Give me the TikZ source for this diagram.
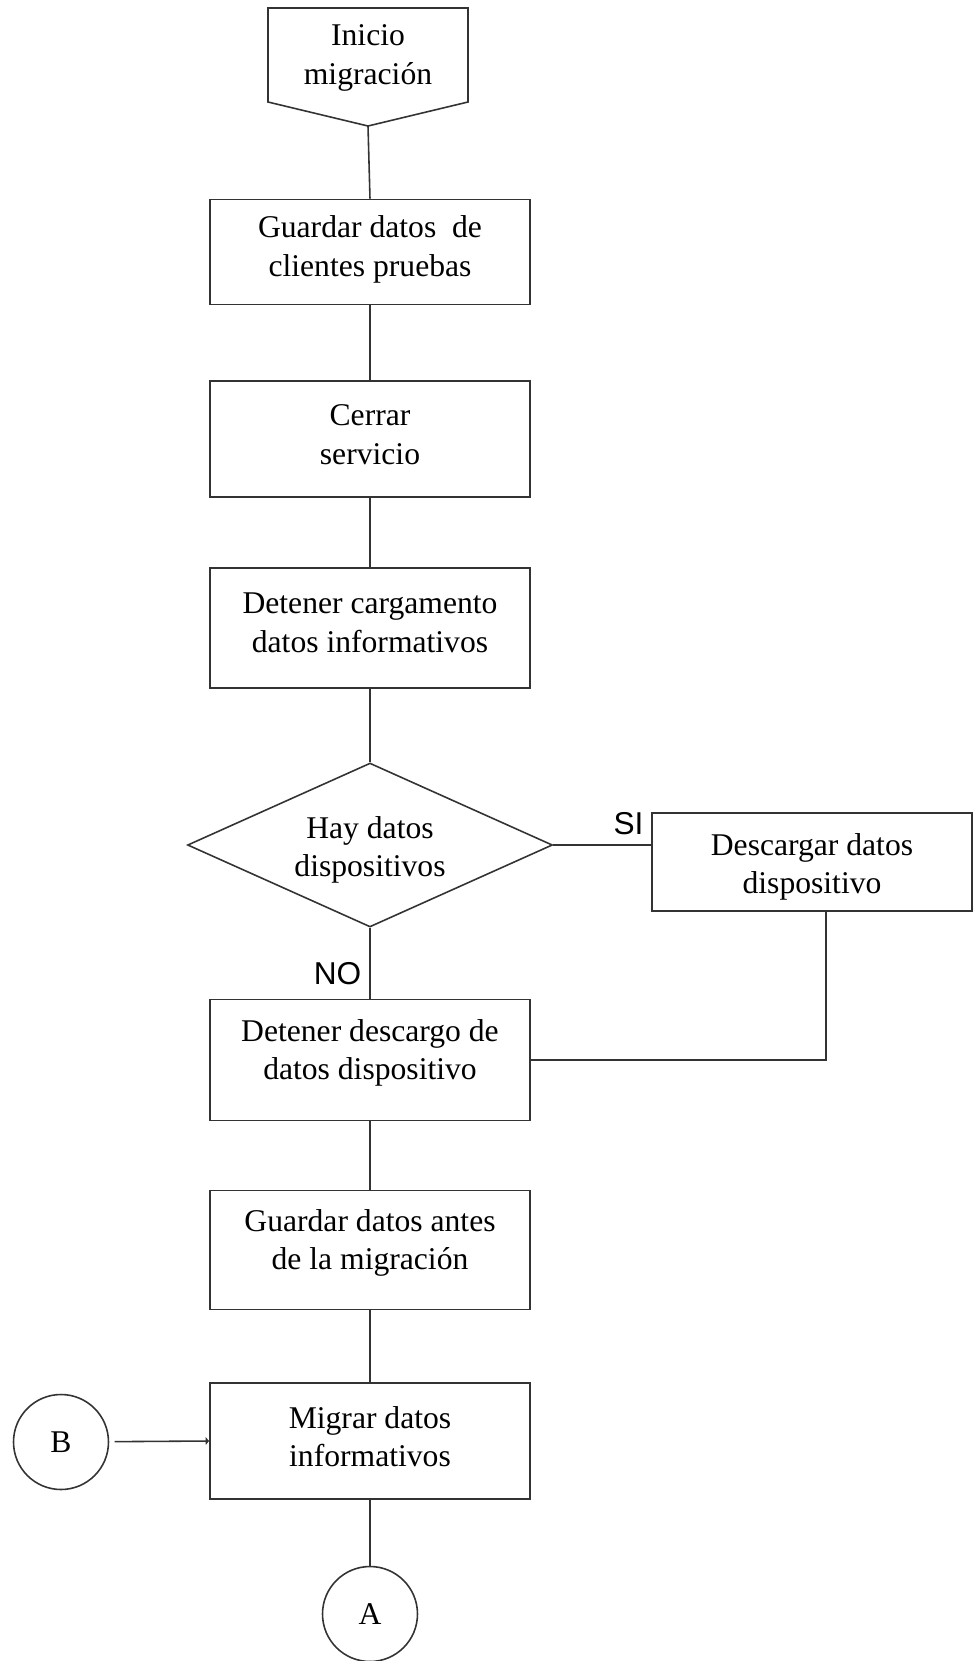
\documentclass[tikz,border=0pt]{standalone}
\usepackage{fontspec}
\setmainfont{Liberation Serif}
\setsansfont{Liberation Sans}
\usetikzlibrary{shapes.geometric, arrows.meta}

\begin{document}
\begin{tikzpicture}[
    x=0.02cm, y=-0.02cm,
    line width=0.9pt, draw=black!80,
    every node/.style={align=center, font=\fontsize{18}{22}\selectfont},
    proceso/.style={
      draw, minimum width=6.4cm, minimum height=#1, inner sep=0pt
    },
    texto/.style={yshift=#1},
    decision/.style={
      draw, diamond, aspect=2.2, inner sep=0pt,
      minimum width=7.3cm, minimum height=3.28cm
    },
    conector/.style={draw, circle, minimum size=1.9cm, inner sep=0pt},
    rotulo/.style={font=\sffamily\fontsize{18}{22}\selectfont, inner sep=2pt},
  ]
    \useasboundingbox (0,0) rectangle (973,1661);

    % inicio
    \node (ini) at (368,58) {Inicio\\migración};
    \draw (268,8) -- (468,8) -- (468,102) -- (368,126) coordinate (iniPunta)
      -- (268,102) -- cycle;

    \node[proceso=2.1cm, label={[texto=0.05cm]center:Guardar datos~ de\\clientes pruebas}] (gcli) at (370,252) {};
    \node[proceso=2.32cm, label={[texto=0.09cm]center:Cerrar\\servicio}] (cerr) at (370,439) {};
    \node[proceso=2.4cm, label={[texto=0.11cm]center:Detener cargamento\\datos informativos}] (detc) at (370,628) {};
    \node[decision, label={[texto=-0.1cm]center:Hay datos\\dispositivos}] (hay) at (370,845) {};
    \node[proceso=1.96cm, label={[texto=-0.1cm]center:Descargar datos\\dispositivo}] (desc) at (812,862) {};
    \node[proceso=2.42cm, label={[texto=0.14cm]center:Detener descargo de\\datos dispositivo}] (detd) at (370,1060) {};
    \node[proceso=2.38cm, label={[texto=0.14cm]center:Guardar datos antes\\de la migración}] (gant) at (370,1250) {};
    \node[proceso=2.32cm, label={[texto=0.09cm]center:Migrar datos\\informativos}] (migr) at (370,1441) {};
    \node[conector] (conB) at (61,1442) {B};
    \node[conector] (conA) at (370,1614) {A};

    % flujo
    \draw (iniPunta) -- (gcli.north);
    \draw (gcli.south) -- (cerr.north);
    \draw (cerr.south) -- (detc.north);
    \draw (detc.south) -- (hay.north);
    \coordinate (siFin) at (hay.east -| desc.west);
    \draw (hay.east) -- (siFin);
    \draw (hay.south) -- (detd.north);
    \draw ([xshift=0.28cm]desc.south) |- (detd.east);
    \draw (detd.south) -- (gant.north);
    \draw (gant.south) -- (migr.north);
    \draw[shorten <=3pt, -{Latex[length=2pt, width=5pt]}] (conB) -- (migr.west);
    \draw (migr.south) -- (conA);

    \node[rotulo, anchor=south east] (si) at ([xshift=-0.07cm, yshift=0.11cm]siFin) {SI};
    \node[rotulo, anchor=south east] (no) at ([xshift=-0.09cm, yshift=0.19cm]detd.north) {NO};
  \end{tikzpicture}
\end{document}
